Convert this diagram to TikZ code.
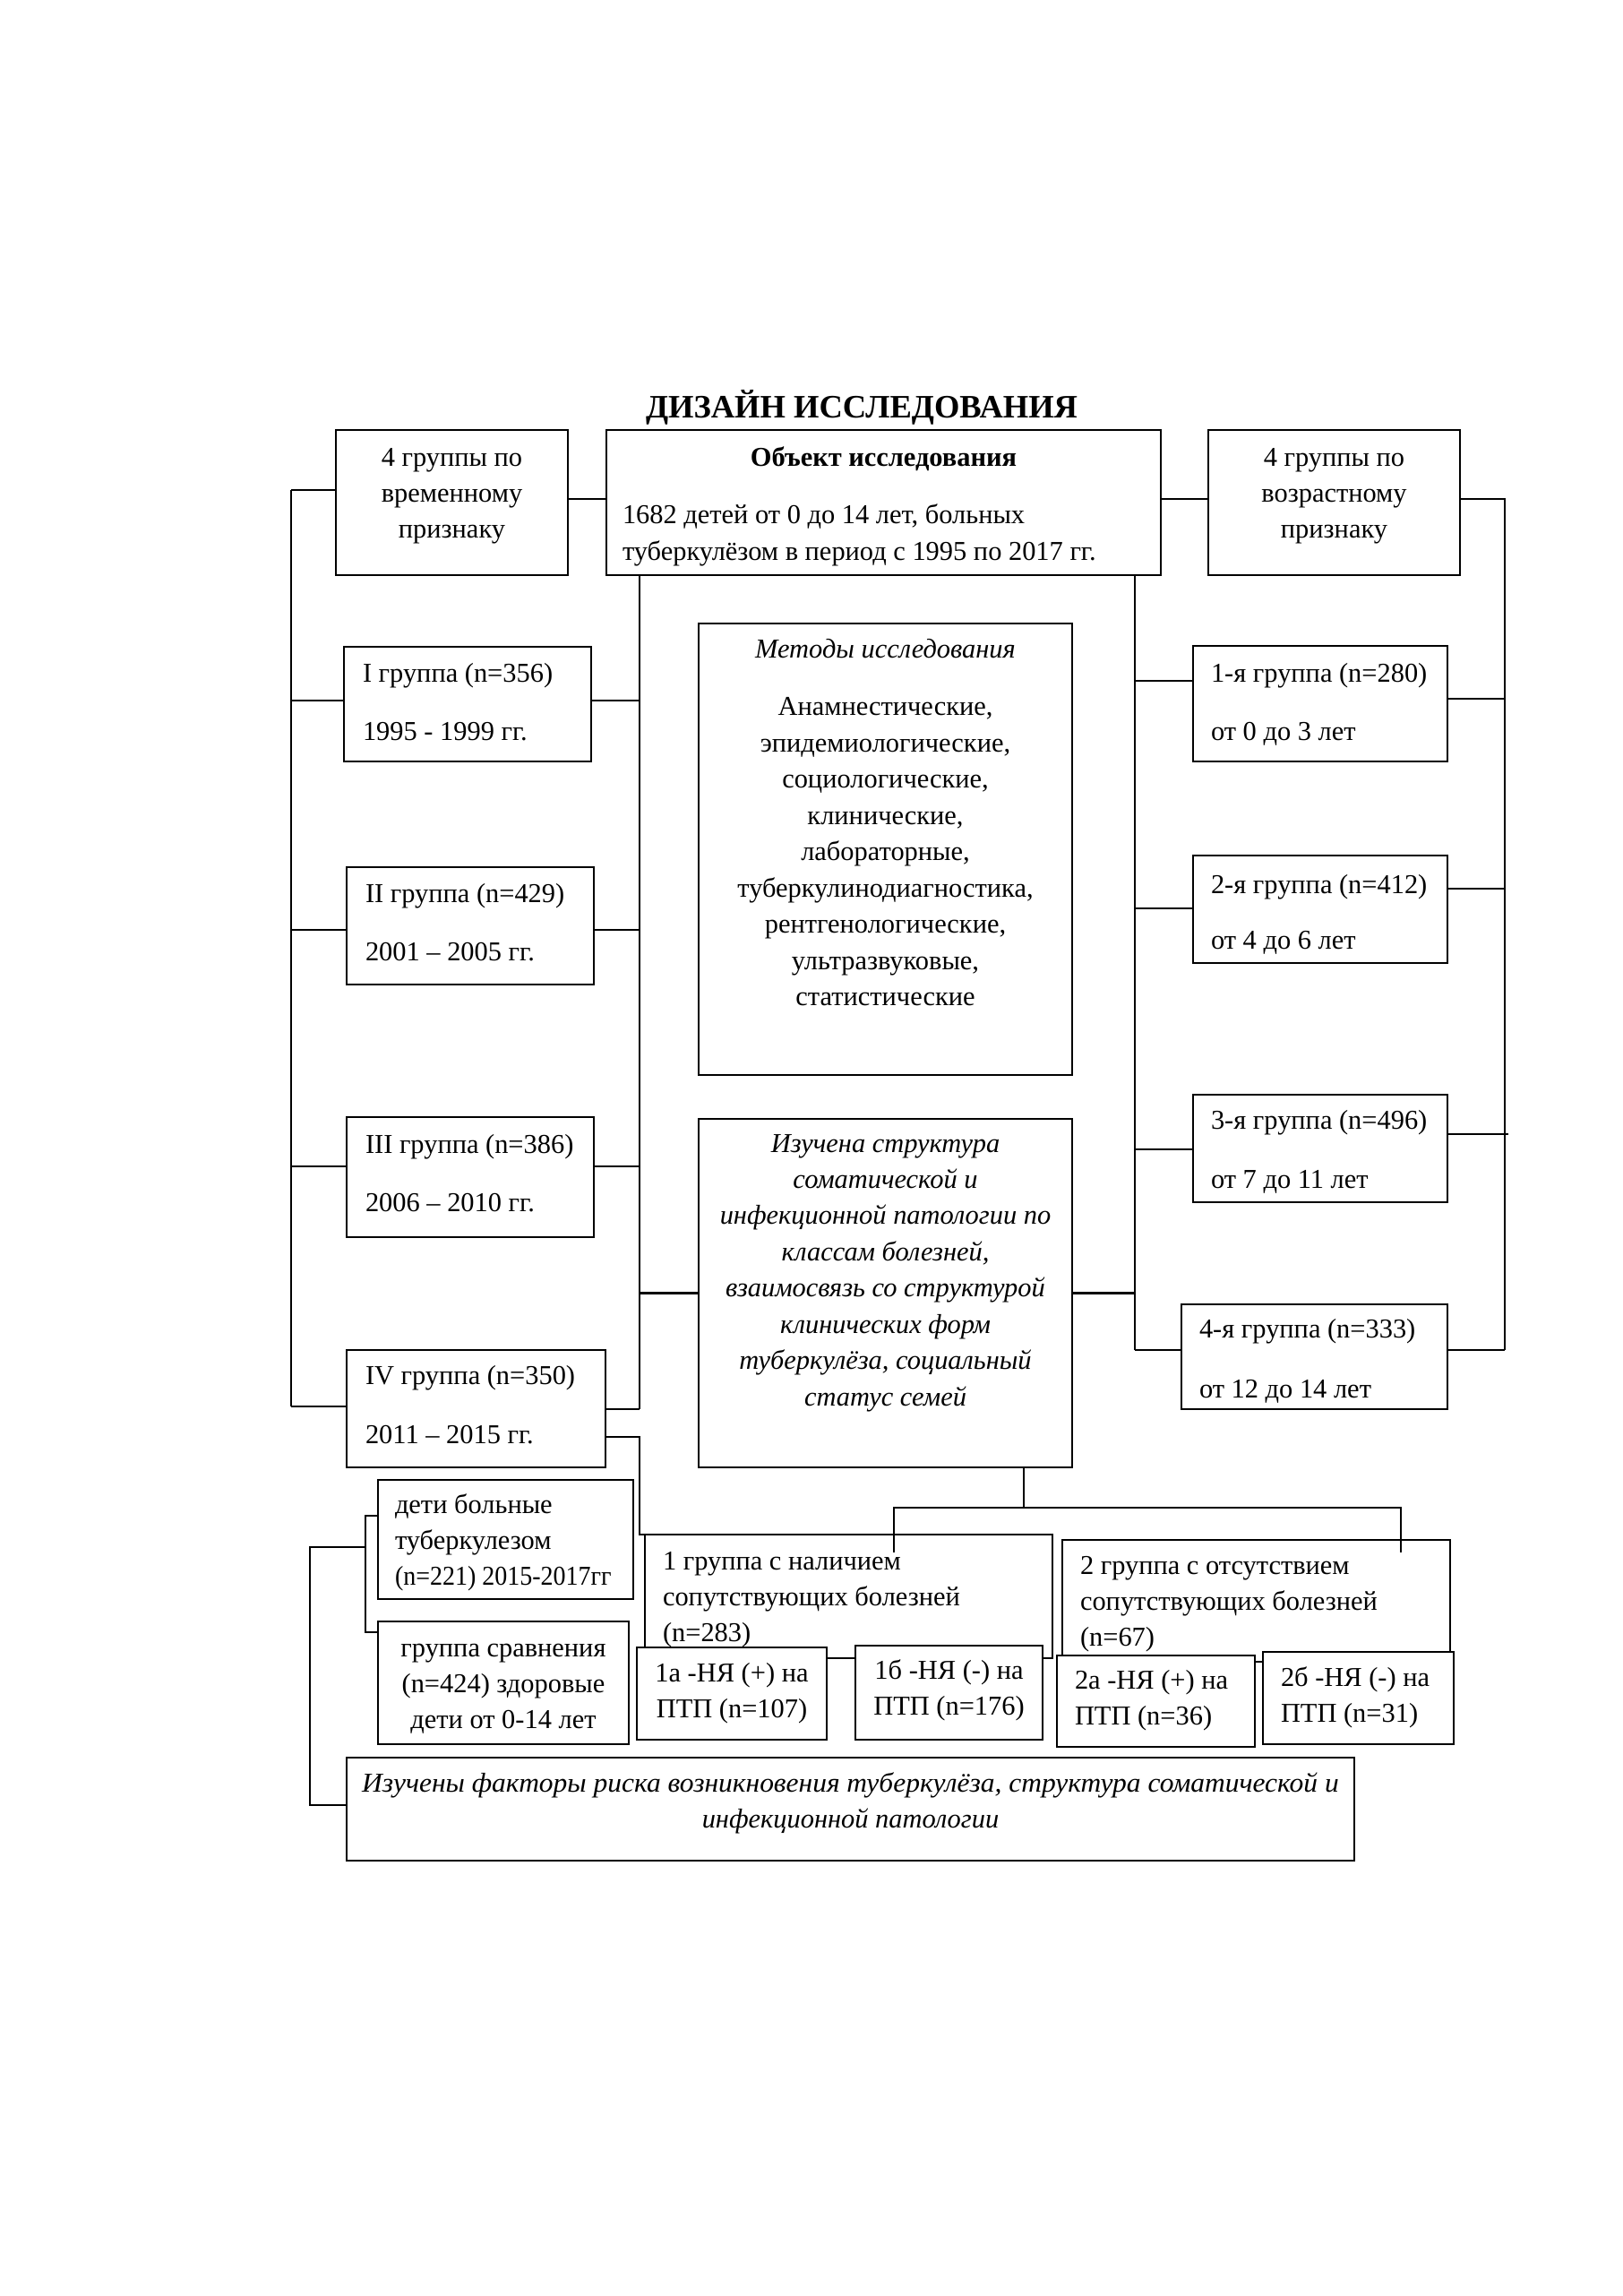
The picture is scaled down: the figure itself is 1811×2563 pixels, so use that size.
\documentclass[tikz,border=0pt]{standalone}
\usepackage{fontspec}
\usepackage{graphicx}
\setmainfont{Liberation Serif}
\newlength\upx \setlength\upx{0.3287pt}
\newcommand\Lp[1]{\raggedright\leftskip=#1\upx\relax}
\newcommand\Bx[8]{%
  \pgfmathsetlengthmacro\bw{(#4-#2)*0.3287pt}%
  \pgfmathsetlengthmacro\bh{(#5-#3)*0.3287pt}%
  \pgfmathsetlengthmacro\bt{(#6-28.3)*0.3287pt}%
  \node[box, minimum width=\bw, minimum height=\bh] (#1) at (#2,#3)
    {\parbox[t][\bh][t]{\bw}{\vspace*{\bt}#7\strut #8\par}};}
\tikzset{
  box/.style={draw, line width=0.8pt, fill=white, inner sep=0pt, outer sep=0pt,
    anchor=north west, font=\fontsize{10}{13.3}\selectfont},
  ln/.style={line width=0.8pt}
}
\begin{document}
\begin{tikzpicture}[x=0.3287pt, y=-0.3287pt]
\fill[white] (0,0) rectangle (1811,2563);
\useasboundingbox (0,0) rectangle (1811,2563);

\node[font=\fontsize{12}{14}\selectfont\bfseries, anchor=base] (title) at (962,467) {ДИЗАЙН ИССЛЕДОВАНИЯ};

% top row
\Bx{tl}{375}{480}{634}{642}{40}{\centering}{4 группы по\\ временному\\ признаку}
\Bx{tc}{677}{480}{1296}{642}{40}{\centering}{{\bfseries Объект исследования\par}\vspace{24.5\upx}{\raggedright\leftskip=18\upx\relax 1682 детей от 0 до 14 лет, больных\\ туберкулёзом в период с 1995 по 2017 гг.\par}}
\Bx{tr}{1349}{480}{1630}{642}{40}{\centering}{4 группы по\\ возрастному\\ признаку}

% left groups
\Bx{g1}{384}{722}{660}{850}{39}{\Lp{21}}{I группа (n=356)\\[25.5\upx] 1995 - 1999 гг.}
\Bx{g2}{387}{968}{663}{1099}{39}{\Lp{21}}{II группа (n=429)\\[25.5\upx] 2001 – 2005 гг.}
\Bx{g3}{387}{1247}{663}{1381}{40}{\Lp{21}}{III группа (n=386)\\[25.5\upx] 2006 – 2010 гг.}
\Bx{g4}{387}{1507}{676}{1638}{38}{\Lp{21}}{IV группа (n=350)\\[25.5\upx] 2011 – 2015 гг.}

% right groups
\Bx{a1}{1332}{721}{1616}{850}{40}{\Lp{20}}{1-я группа (n=280)\\[25\upx] от 0 до 3 лет}
\Bx{a2}{1332}{955}{1616}{1075}{42}{\Lp{20}}{2-я группа (n=412)\\[22.5\upx] от 4 до 6 лет}
\Bx{a3}{1332}{1222}{1616}{1342}{38}{\Lp{20}}{3-я группа (n=496)\\[26.5\upx] от 7 до 11 лет}
\Bx{a4}{1319}{1456}{1616}{1573}{37}{\Lp{20}}{4-я группа (n=333)\\[26.5\upx] от 12 до 14 лет}

% centre
\Bx{met}{780}{696}{1197}{1200}{38}{\centering}{{\itshape Методы исследования}\\[24.5\upx] Анамнестические,\\ эпидемиологические,\\ социологические,\\ клинические,\\ лабораторные,\\ туберкулинодиагностика,\\ рентгенологические,\\ ультразвуковые,\\ статистические}
\Bx{izu}{780}{1249}{1197}{1638}{37}{\centering\itshape}{Изучена структура\\ соматической и\\ инфекционной патологии по\\ классам болезней,\\ взаимосвязь со структурой\\ клинических форм\\ туберкулёза, социальный\\ статус семей}

% bottom groups
\Bx{grp1}{720}{1713}{1175}{1851}{39}{\Lp{20}}{1 группа с наличием\\ сопутствующих болезней\\ (n=283)}
\Bx{grp2}{1186}{1719}{1619}{1855}{38}{\Lp{20}}{2 группа с отсутствием\\ сопутствующих болезней\\ (n=67)}
\Bx{s1a}{711}{1839}{923}{1942}{38}{\centering}{1а -НЯ (+) на\\ ПТП (n=107)}
\Bx{s1b}{955}{1837}{1164}{1942}{37}{\centering}{1б -НЯ (-) на\\ ПТП (n=176)}
\Bx{s2a}{1180}{1848}{1401}{1950}{37}{\Lp{20}}{2а -НЯ (+) на\\ ПТП (n=36)}
\Bx{s2b}{1410}{1844}{1623}{1947}{38}{\Lp{20}}{2б -НЯ (-) на\\ ПТП (n=31)}

\Bx{det}{422}{1652}{707}{1785}{37}{\Lp{19}}{дети больные\\ туберкулезом\\ \scalebox{0.92}[1]{(n=221) 2015-2017гг}}
\Bx{cmp}{422}{1810}{702}{1947}{39}{\centering}{группа сравнения\\ (n=424) здоровые\\ дети от 0-14 лет}
\Bx{fak}{387}{1962}{1512}{2077}{38}{\centering\itshape}{\scalebox{1.035}[1]{Изучены факторы риска возникновения туберкулёза, структура соматической и}\\ инфекционной патологии}

% bus coordinates
\coordinate (LBt) at (325,547);
\coordinate (LBb) at (325,1570);
\coordinate (RBt) at (1680,557);
\coordinate (RBb) at (1680,1507);
\coordinate (CLt) at (714,642);
\coordinate (CLb) at (714,1573);
\coordinate (CRt) at (1267,642);
\coordinate (CRb) at (1267,1507);

\draw[ln] (LBt) -- (LBb);
\draw[ln] (LBt) -- (tl.west |- LBt);
\draw[ln] (tl.east |- 0,557) -- (tc.west |- 0,557);
\draw[ln] (tc.east |- 0,557) -- (tr.west |- 0,557);
\draw[ln] (tr.east |- RBt) -- (RBt) -- (RBb);
\draw[ln] (tc.south -| CLt) -- (CLb);
\draw[ln] (tc.south -| CRt) -- (CRb);

% left groups
\draw[ln] (LBt |- 0,782) -- (g1.west |- 0,782);
\draw[ln] (g1.east |- 0,782) -- (CLt |- 0,782);
\draw[ln] (LBt |- 0,1038) -- (g2.west |- 0,1038);
\draw[ln] (g2.east |- 0,1038) -- (CLt |- 0,1038);
\draw[ln] (LBt |- 0,1302) -- (g3.west |- 0,1302);
\draw[ln] (g3.east |- 0,1302) -- (CLt |- 0,1302);
\draw[ln] (LBb) -- (g4.west |- LBb);
\draw[ln] (g4.east |- CLb) -- (CLb);

% right groups
\draw[ln] (CRt |- 0,760) -- (a1.west |- 0,760);
\draw[ln] (a1.east |- 0,780) -- (RBt |- 0,780);
\draw[ln] (CRt |- 0,1014) -- (a2.west |- 0,1014);
\draw[ln] (a2.east |- 0,992) -- (RBt |- 0,992);
\draw[ln] (CRt |- 0,1283) -- (a3.west |- 0,1283);
\draw[ln] (a3.east |- 0,1266) -- (1684,1266);
\draw[ln] (CRb) -- (a4.west |- CRb);
\draw[ln] (a4.east |- RBb) -- (RBb);

% Изучена links
\draw[ln] (CLt |- izu.west) -- (izu.west);
\draw[ln] (izu.east) -- (CRt |- izu.east);

% IV to group 1
\draw[ln] (g4.east |- 0,1604) -- (CLt |- 0,1604) -- (CLt |- grp1.north) -- (grp1.north west);

% Изучена to groups 1 and 2
\coordinate (SP) at (1143,1683);
\coordinate (D1) at (998,1733);
\coordinate (D2) at (1564,1733);
\draw[ln] (izu.south -| SP) -- (SP);
\draw[ln] (D1) -- (D1 |- SP) -- (D2 |- SP) -- (D2);

% left small bus
\coordinate (SB) at (408,1727);
\coordinate (SB2) at (346,1727);
\draw[ln] (det.west |- 0,1692) -- (SB |- 0,1692) -- (SB |- 0,1822) -- (cmp.west |- 0,1822);
\draw[ln] (SB) -- (SB2) -- (SB2 |- 0,2015) -- (fak.west |- 0,2015);
\end{tikzpicture}
\end{document}
